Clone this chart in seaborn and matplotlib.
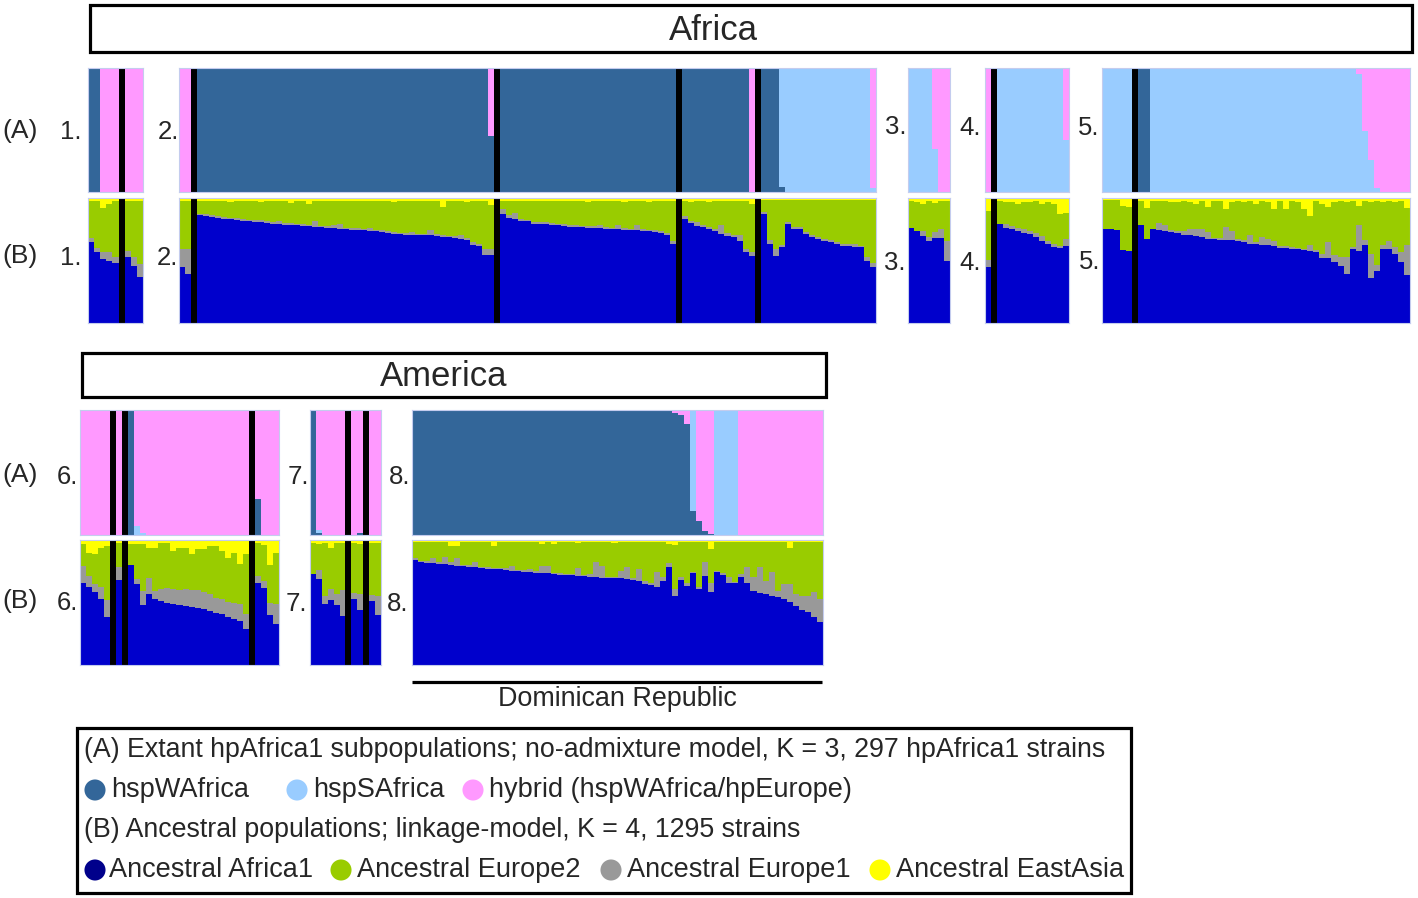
import matplotlib
matplotlib.use("Agg")
import matplotlib.pyplot as plt
import numpy as np
import pandas as pd
import seaborn as sns
from matplotlib.patches import Rectangle

sns.set_style("white")
plt.rcParams['font.family'] = ['Liberation Sans', 'DejaVu Sans']

# ---------------- colours ----------------
C_W, C_S, C_H = '#336699', '#99CCFF', '#FF99FF'
C_AF, C_EU2, C_EU1, C_EA = '#0000CC', '#99CC00', '#999999', '#FFFF00'

# ---------------- data ----------------
# (A) no-admixture: W = hspWAfrica, S = hspSAfrica (rest = hybrid)
# (B) linkage: af = Ancestral Africa1, eu1 = Ancestral Europe1, ea = Ancestral EastAsia (rest = Europe2)
# seps = number of strains before each black separator

p1_W = [1, 1, 0, 0, 0, 0, 0, 0]
p1_S = [0, 0, 0, 0, 0, 0, 0, 0]
p1_af = [0.65, 0.57, 0.51, 0.50, 0.48, 0.53, 0.46, 0.37]
p1_eu1 = [0.03, 0.03, 0.06, 0.07, 0.05, 0.05, 0.07, 0.10]
p1_ea = [0.02, 0.02, 0.08, 0.05, 0.02, 0.02, 0.02, 0.02]
p1_seps = [5]

p2_W = ([0, 0] + [1] * 48 + [0.45] + [1] * 29 + [1] * 11 + [0]
        + [1, 1, 1, 0.04] + [0] * 15)
p2_S = ([0, 0] + [0] * 49 + [0] * 29 + [0] * 12
        + [0, 0, 0, 0.96] + [1] * 14 + [0.03])
p2_af = ([0.445, 0.395]
         + [0.861, 0.856, 0.848, 0.840, 0.835, 0.829, 0.824, 0.819, 0.813, 0.811,
            0.808, 0.803, 0.795, 0.792, 0.787, 0.781, 0.781, 0.776, 0.773, 0.768,
            0.765, 0.763, 0.760, 0.755, 0.749, 0.747, 0.744, 0.741, 0.736, 0.733,
            0.728, 0.723, 0.715, 0.709, 0.707, 0.707, 0.701, 0.701, 0.701, 0.696,
            0.688, 0.685, 0.680, 0.675, 0.667, 0.621, 0.616, 0.547, 0.547]
         + [0.875, 0.840, 0.830, 0.820, 0.813, 0.795, 0.792, 0.790, 0.787, 0.781,
            0.776, 0.771, 0.768, 0.765, 0.763, 0.760, 0.760, 0.755, 0.749, 0.749,
            0.747, 0.741, 0.741, 0.739, 0.733, 0.728, 0.723, 0.707, 0.635]
         + [0.835, 0.800, 0.780, 0.765, 0.750, 0.735, 0.715, 0.700, 0.688, 0.655,
            0.570, 0.540]
         + [0.870, 0.635, 0.535, 0.610, 0.795, 0.755, 0.750, 0.715, 0.690, 0.675,
            0.660, 0.650, 0.635, 0.620, 0.615, 0.610, 0.605, 0.500, 0.450])
p2_eu1 = ([0.144, 0.195]
          + [0.015, 0.02, 0.02, 0.015, 0.015, 0.015, 0.015, 0.015, 0.015, 0.015,
             0.015, 0.015, 0.015, 0.021, 0.015, 0.02, 0.015, 0.015, 0.015, 0.045,
             0.015, 0.015, 0.027, 0.04, 0.015, 0.015, 0.015, 0.015, 0.024, 0.015,
             0.015, 0.015, 0.015, 0.015, 0.015, 0.021, 0.015, 0.015, 0.04, 0.015,
             0.015, 0.015, 0.015, 0.03, 0.015, 0.027, 0.015, 0.048, 0.048]
          + [0.035, 0.027, 0.053, 0.015, 0.015, 0.015, 0.015, 0.015, 0.016, 0.015,
             0.015, 0.015, 0.015, 0.015, 0.015, 0.015, 0.021, 0.015, 0.015, 0.032,
             0.015, 0.015, 0.045, 0.015, 0.015, 0.015, 0.015, 0.015, 0.019]
          + [0.02, 0.02, 0.03, 0.02, 0.02, 0.02, 0.07, 0.02, 0.02, 0.05, 0.025, 0.03]
          + [0.015, 0.03, 0.06, 0.015, 0.015, 0.015, 0.015, 0.015, 0.015, 0.015,
             0.015, 0.015, 0.015, 0.015, 0.015, 0.025, 0.015, 0.025, 0.03])
p2_ea = ([0.02, 0.02]
         + [0.02, 0.02, 0.02, 0.02, 0.02, 0.035, 0.02, 0.02, 0.02, 0.02,
            0.035, 0.02, 0.02, 0.02, 0.02, 0.04, 0.02, 0.02, 0.045, 0.02,
            0.02, 0.02, 0.02, 0.02, 0.02, 0.02, 0.02, 0.02, 0.02, 0.02,
            0.02, 0.02, 0.035, 0.02, 0.02, 0.02, 0.02, 0.02, 0.02, 0.02,
            0.07, 0.02, 0.02, 0.02, 0.035, 0.02, 0.02, 0.02, 0.055]
         + [0.02, 0.02, 0.02, 0.02, 0.02, 0.02, 0.02, 0.02, 0.02, 0.02,
            0.02, 0.02, 0.02, 0.02, 0.035, 0.02, 0.02, 0.02, 0.02, 0.02,
            0.035, 0.02, 0.02, 0.02, 0.035, 0.02, 0.02, 0.02, 0.02]
         + [0.02, 0.03, 0.02, 0.02, 0.03, 0.02, 0.02, 0.02, 0.02, 0.02, 0.02, 0.045]
         + [0.015] * 19)
p2_seps = [2, 51, 80, 92]

p3_W = [0, 0, 0, 0, 0, 0, 0]
p3_S = [1, 1, 1, 1, 0.344, 0, 0]
p3_af = [0.76, 0.74, 0.70, 0.66, 0.68, 0.68, 0.50]
p3_eu1 = [0.0, 0.0, 0.04, 0.03, 0.05, 0.07, 0.16]
p3_ea = [0.02, 0.03, 0.05, 0.02, 0.04, 0.02, 0.02]
p3_seps = []

p4_W = [0] * 13
p4_S = [0] + [1] * 11 + [0.42]
p4_af = [0.445, 0.79, 0.76, 0.75, 0.74, 0.72, 0.71, 0.69, 0.66, 0.63, 0.61, 0.60, 0.62]
p4_eu1 = [0.06, 0.0, 0.03, 0.03, 0.02, 0.03, 0.03, 0.03, 0.04, 0.03, 0.02, 0.02, 0.05]
p4_ea = [0.10, 0.02, 0.03, 0.03, 0.05, 0.03, 0.03, 0.02, 0.05, 0.03, 0.05, 0.13, 0.12]
p4_seps = [1]

p5_W = [0] * 5 + [1, 1] + [0] * 43
p5_S = [1] * 5 + [0, 0] + [1] * 34 + [0.95, 0.49, 0.26, 0.03] + [0] * 5
p5_af = ([0.749, 0.749, 0.741, 0.587, 0.579]
         + [0.781, 0.669, 0.749, 0.741, 0.733, 0.728, 0.723, 0.707, 0.701, 0.696,
            0.688, 0.675, 0.669, 0.667, 0.661, 0.661, 0.656, 0.648, 0.635, 0.635,
            0.627, 0.621, 0.616, 0.600, 0.600, 0.595, 0.589, 0.581, 0.573, 0.568,
            0.520, 0.520, 0.488, 0.460, 0.395, 0.589, 0.573, 0.621, 0.360, 0.413,
            0.589, 0.595, 0.555, 0.488, 0.381])
p5_eu1 = ([0.0, 0.0, 0.0, 0.0, 0.0]
          + [0.0, 0.0, 0.0, 0.06, 0.048, 0.015, 0.015, 0.027, 0.048, 0.059,
             0.061, 0.053, 0.015, 0.015, 0.107, 0.072, 0.015, 0.015, 0.067, 0.015,
             0.061, 0.053, 0.04, 0.015, 0.015, 0.015, 0.015, 0.015, 0.053, 0.015,
             0.035, 0.128, 0.053, 0.067, 0.133, 0.02, 0.208, 0.04, 0.19, 0.048,
             0.032, 0.059, 0.053, 0.08, 0.24])
p5_ea = ([0.015, 0.015, 0.015, 0.064, 0.072]
         + [0.02, 0.08, 0.02, 0.02, 0.02, 0.03, 0.03, 0.02, 0.03, 0.045,
            0.02, 0.072, 0.02, 0.02, 0.09, 0.03, 0.02, 0.03, 0.02, 0.05,
            0.02, 0.03, 0.085, 0.02, 0.09, 0.02, 0.03, 0.085, 0.144, 0.02,
            0.05, 0.07, 0.03, 0.02, 0.03, 0.02, 0.065, 0.02, 0.03, 0.02,
            0.03, 0.02, 0.03, 0.02, 0.08])
p5_seps = [5]

p6_W = [0] * 5 + [0] + [1, 0, 0] + [0] * 17 + [0.285, 0, 0, 0]
p6_S = [0] * 5 + [0] + [0, 0.07, 0.02] + [0] * 17 + [0, 0, 0, 0]
p6_af = ([0.656, 0.621, 0.581, 0.528, 0.387]
         + [0.683]
         + [0.80, 0.65, 0.48, 0.57, 0.53, 0.515, 0.50, 0.49, 0.48, 0.475,
            0.467, 0.46, 0.448, 0.435, 0.42, 0.408, 0.387, 0.368, 0.35, 0.29]
         + [0.66, 0.62, 0.40, 0.33])
p6_eu1 = ([0.139, 0.093, 0.067, 0.093, 0.133]
          + [0.10]
          + [0.0, 0.04, 0.11, 0.13, 0.06, 0.09, 0.12, 0.12, 0.12, 0.13,
             0.13, 0.14, 0.14, 0.13, 0.12, 0.12, 0.12, 0.13, 0.14, 0.12]
          + [0.05, 0.05, 0.10, 0.16])
p6_ea = ([0.03, 0.10, 0.11, 0.06, 0.05]
         + [0.02]
         + [0.03, 0.03, 0.03, 0.06, 0.06, 0.02, 0.02, 0.085, 0.06, 0.06,
            0.11, 0.07, 0.07, 0.045, 0.045, 0.085, 0.14, 0.10, 0.19, 0.11]
         + [0.02, 0.04, 0.20, 0.10])
p6_seps = [5, 6, 26]

p7_W = [1, 0.02, 0, 0, 0, 0] + [0, 0.02] + [0, 0]
p7_S = [0, 0.02, 0, 0, 0, 0] + [0, 0] + [0, 0]
p7_af = [0.73, 0.69, 0.49, 0.52, 0.48, 0.39, 0.53, 0.44, 0.51, 0.40]
p7_eu1 = [0.0, 0.07, 0.06, 0.09, 0.09, 0.21, 0.05, 0.13, 0.05, 0.15]
p7_ea = [0.02, 0.03, 0.02, 0.06, 0.02, 0.02, 0.02, 0.03, 0.02, 0.02]
p7_seps = [6, 8]

p8_W = [1] * 43 + [0.98, 0.96, 0.89, 0.19, 0.11, 0.03, 0.01] + [0] * 4 + [0] * 14
p8_S = [0] * 43 + [0, 0, 0, 0.81, 0, 0, 0] + [1] * 4 + [0] * 14
p8_af = [0.840, 0.821, 0.819, 0.816, 0.811, 0.808, 0.800, 0.795, 0.789, 0.787,
         0.781, 0.773, 0.771, 0.768, 0.765, 0.763, 0.755, 0.749, 0.747, 0.744,
         0.739, 0.733, 0.733, 0.728, 0.723, 0.720, 0.717, 0.712, 0.709, 0.707,
         0.701, 0.699, 0.696, 0.693, 0.693, 0.688, 0.683, 0.675, 0.648, 0.643,
         0.627, 0.675, 0.787, 0.549, 0.680, 0.635, 0.733, 0.608, 0.709, 0.581,
         0.741, 0.723, 0.653, 0.653, 0.701, 0.653, 0.595, 0.573, 0.568, 0.555,
         0.541, 0.528, 0.501, 0.475, 0.440, 0.421, 0.387, 0.341]
p8_eu1 = [0.013, 0.01, 0.01, 0.04, 0.01, 0.053, 0.021, 0.061, 0.01, 0.01,
          0.04, 0.01, 0.01, 0.01, 0.01, 0.01, 0.04, 0.01, 0.01, 0.024,
          0.01, 0.059, 0.059, 0.01, 0.01, 0.01, 0.01, 0.064, 0.01, 0.021,
          0.12, 0.096, 0.01, 0.01, 0.056, 0.093, 0.01, 0.093, 0.027, 0.01,
          0.115, 0.027, 0.027, 0.059, 0.021, 0.019, 0.01, 0.013, 0.117, 0.072,
          0.01, 0.011, 0.053, 0.01, 0.03, 0.128, 0.11, 0.208, 0.107, 0.187,
          0.053, 0.12, 0.147, 0.093, 0.115, 0.133, 0.195, 0.187]
p8_ea = [0.015, 0.015, 0.015, 0.015, 0.015, 0.015, 0.045, 0.045, 0.015, 0.015,
         0.015, 0.015, 0.015, 0.045, 0.015, 0.015, 0.015, 0.015, 0.015, 0.015,
         0.015, 0.03, 0.015, 0.035, 0.015, 0.015, 0.015, 0.025, 0.015, 0.015,
         0.015, 0.015, 0.015, 0.025, 0.015, 0.015, 0.015, 0.015, 0.015, 0.015,
         0.015, 0.015, 0.03, 0.04, 0.015, 0.015, 0.015, 0.015, 0.015, 0.072,
         0.015, 0.015, 0.015, 0.015, 0.015, 0.015, 0.015, 0.015, 0.015, 0.015,
         0.015, 0.015, 0.06, 0.015, 0.015, 0.015, 0.015, 0.015]
p8_seps = []

# ---------------- layout (pixels) ----------------
W_PX, H_PX = 1418, 898
ROW_AFR = ((68, 192), (198, 323))
ROW_AME = ((410, 535), (540, 665))
panels = [
    ('1.', p1_W, p1_S, p1_af, p1_eu1, p1_ea, p1_seps, (88, 143), ROW_AFR, (71, 132), (71, 258)),
    ('2.', p2_W, p2_S, p2_af, p2_eu1, p2_ea, p2_seps, (179, 876), ROW_AFR, (168, 132), (167, 258)),
    ('3.', p3_W, p3_S, p3_af, p3_eu1, p3_ea, p3_seps, (908, 950), ROW_AFR, (896, 127), (895, 263)),
    ('4.', p4_W, p4_S, p4_af, p4_eu1, p4_ea, p4_seps, (985, 1069), ROW_AFR, (970, 128), (970, 263)),
    ('5.', p5_W, p5_S, p5_af, p5_eu1, p5_ea, p5_seps, (1102, 1410), ROW_AFR, (1089, 128), (1090, 262)),
    ('6.', p6_W, p6_S, p6_af, p6_eu1, p6_ea, p6_seps, (80, 279), ROW_AME, (67, 477), (67, 603)),
    ('7.', p7_W, p7_S, p7_af, p7_eu1, p7_ea, p7_seps, (310, 381), ROW_AME, (298, 477), (296, 604)),
    ('8.', p8_W, p8_S, p8_af, p8_eu1, p8_ea, p8_seps, (412, 823), ROW_AME, (400, 477), (398, 604)),
]

fig = plt.figure(figsize=(W_PX / 100, H_PX / 100), dpi=100)
fig.patch.set_facecolor('white')


def px_axes(x0, x1, y0, y1):
    return fig.add_axes([x0 / W_PX, 1 - y1 / H_PX, (x1 - x0) / W_PX, (y1 - y0) / H_PX])


def slot_positions(n, seps):
    slots, k = [], 0
    for i in range(n):
        while k < len(seps) and seps[k] <= i:
            k += 1
        slots.append(i + k)
    sep_slots = [s + j for j, s in enumerate(seps)]
    return slots, sep_slots, n + len(seps)


def draw_stack(ax, slots, layers, sep_slots, nslots):
    for heights, color in layers:
        df = pd.DataFrame({'slot': slots, 'h': heights})
        sns.barplot(data=df, x='slot', y='h', color=color, width=1, native_scale=True,
                    errorbar=None, saturation=1, linewidth=0, ax=ax)
    for s in sep_slots:
        sns.barplot(x=[s], y=[1.0], color='black', width=1, native_scale=True,
                    errorbar=None, saturation=1, linewidth=0, ax=ax)
    for p in ax.patches:
        p.set_antialiased(False)
    ax.set_xlim(-0.5, nslots - 0.5)
    ax.set_ylim(0, 1)
    ax.set_xticks([]); ax.set_yticks([])
    ax.set_xlabel(''); ax.set_ylabel('')
    for sp in ax.spines.values():
        sp.set_color('#c4ccee'); sp.set_linewidth(0.8)


ov = fig.add_axes([0, 0, 1, 1])
ov.set_xlim(0, W_PX); ov.set_ylim(H_PX, 0); ov.axis('off')

for (lab, Wv, Sv, af, eu1, ea, seps, (x0, x1), rows, labA, labB) in panels:
    n = len(af)
    slots, sep_slots, nslots = slot_positions(n, seps)
    Wv = np.array(Wv, float); Sv = np.array(Sv, float)
    af = np.array(af); eu1 = np.array(eu1); ea = np.array(ea)
    axA = px_axes(x0, x1, *rows[0])
    draw_stack(axA, slots, [(np.ones(n), C_H), (Wv + Sv, C_S), (Wv, C_W)], sep_slots, nslots)
    axB = px_axes(x0, x1, *rows[1])
    draw_stack(axB, slots, [(np.ones(n), C_EA), (1 - ea, C_EU2), (af + eu1, C_EU1), (af, C_AF)],
               sep_slots, nslots)
    ov.text(labA[0], labA[1], lab, fontsize=18.5, ha='center', va='center')
    ov.text(labB[0], labB[1], lab, fontsize=18.5, ha='center', va='center')

for y in (131, 475):
    ov.text(20, y, '(A)', fontsize=19, ha='center', va='center')
for y in (256, 601):
    ov.text(20, y, '(B)', fontsize=19, ha='center', va='center')

# headers
ov.add_patch(Rectangle((90, 5), 1322, 47, fill=False, ec='black', lw=2.3))
ov.text(713, 30, 'Africa', fontsize=25, ha='center', va='center')
ov.add_patch(Rectangle((82, 353), 744, 44, fill=False, ec='black', lw=2.3))
ov.text(444, 377, 'America', fontsize=25, ha='center', va='center')

# Dominican Republic bracket
ov.plot([412, 822], [682, 682], color='black', lw=2.3, solid_capstyle='butt')
ov.text(617, 699, 'Dominican Republic', fontsize=19.4, ha='center', va='center')

# legend
LEG_FS = 19.5
ov.add_patch(Rectangle((77, 728), 1054, 165, fill=False, ec='black', lw=2.3))
ov.text(84, 750, '(A) Extant hpAfrica1 subpopulations; no-admixture model, K = 3, 297 hpAfrica1 strains',
        fontsize=19.3, ha='left', va='center')
ov.text(84, 830, '(B) Ancestral populations; linkage-model, K = 4, 1295 strains',
        fontsize=19.3, ha='left', va='center')
legA = [('hspWAfrica', C_W, 95, 111), ('hspSAfrica', C_S, 297, 313),
        ('hybrid (hspWAfrica/hpEurope)', C_H, 473, 489)]
legB = [('Ancestral Africa1', '#00008B', 95, 109), ('Ancestral Europe2', C_EU2, 341, 357),
        ('Ancestral Europe1', C_EU1, 611, 627), ('Ancestral EastAsia', C_EA, 880, 896)]
for y, items in ((790, legA), (870, legB)):
    for txt, col, cx, tx in items:
        ov.scatter([cx], [y], s=230, color=col, edgecolors='none')
        ov.text(tx, y, txt, fontsize=LEG_FS, ha='left', va='center')

fig.savefig('out.png', dpi=100, facecolor='white')
